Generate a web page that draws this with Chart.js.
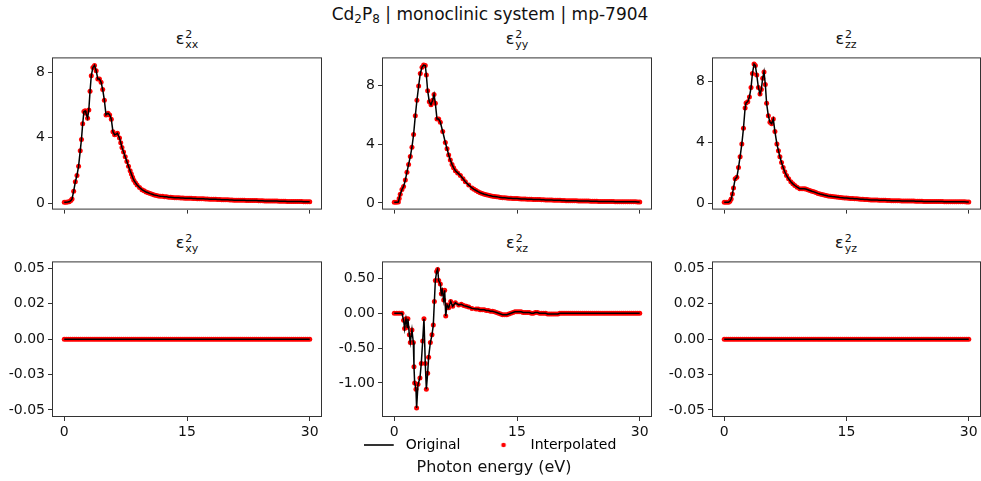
<!DOCTYPE html>
<html>
<head>
<meta charset="utf-8">
<script src="https://cdn.jsdelivr.net/npm/chart.js@4.4.1/dist/chart.umd.min.js"></script>
<style>
  html, body { margin: 0; padding: 0; background: #fff; }
  #fig { position: relative; width: 981px; height: 481px; overflow: hidden; font-family: "DejaVu Sans", sans-serif; color: #111; }
  #fig canvas { position: absolute; }
  .txt { position: absolute; white-space: nowrap; transform: translateX(-50%); }
  .main { font-size: 17px; line-height: 20px; top: 4px; left: 490px; }
  .main sub { font-size: 12px; line-height: 0; vertical-align: -3px; }
  .ttl { font-size: 16px; line-height: 16px; }
  .idx { display: inline-flex; flex-direction: column; font-size: 11px; line-height: 10px; vertical-align: 6px; margin-left: 1px; }
  .xlabel { font-size: 16px; line-height: 19px; left: 494px; top: 457px; }
</style>
</head>
<body>
<div id="fig">
  <div class="txt main">Cd<sub>2</sub>P<sub>8</sub> | monoclinic system | mp-7904</div>
  <div class="txt ttl" style="left:187px;top:30px">ε<span class="idx"><span>2</span><span>xx</span></span></div>
  <div class="txt ttl" style="left:517px;top:30px">ε<span class="idx"><span>2</span><span>yy</span></span></div>
  <div class="txt ttl" style="left:846px;top:30px">ε<span class="idx"><span>2</span><span>zz</span></span></div>
  <div class="txt ttl" style="left:187px;top:234px">ε<span class="idx"><span>2</span><span>xy</span></span></div>
  <div class="txt ttl" style="left:517px;top:234px">ε<span class="idx"><span>2</span><span>xz</span></span></div>
  <div class="txt ttl" style="left:846px;top:234px">ε<span class="idx"><span>2</span><span>yz</span></span></div>
  <canvas id="cXX"></canvas>
  <canvas id="cYY"></canvas>
  <canvas id="cZZ"></canvas>
  <canvas id="cXY"></canvas>
  <canvas id="cXZ"></canvas>
  <canvas id="cYZ"></canvas>
  <canvas id="cLegend"></canvas>
  <div class="txt xlabel">Photon energy (eV)</div>
</div>
<script>
/* ===== data ===== */
const xTicks = [0, 15, 30];
const xTickLabels = ["0", "15", "30"];
const topTicks = [0, 4, 8];
const topTickLabels = ["0", "4", "8"];
const zeroTicks = [-0.05, -0.025, 0, 0.025, 0.05];
const zeroTickLabels = ["-0.05", "-0.03", "0.00", "0.02", "0.05"];
const xzTicks = [-1, -0.5, 0, 0.5];
const xzTickLabels = ["-1.00", "-0.50", "0.00", "0.50"];

// 10 .. 30 eV, shared by the slow tails
const tailEnergy = [
  10, 10.25, 10.5, 10.75, 11, 11.25, 11.5, 11.75, 12, 12.25,
  12.5, 12.75, 13, 13.25, 13.5, 13.75, 14, 14.25, 14.5, 14.75,
  15, 15.25, 15.5, 15.75, 16, 16.25, 16.5, 16.75, 17, 17.25,
  17.5, 17.75, 18, 18.25, 18.5, 18.75, 19, 19.25, 19.5, 19.75,
  20, 20.25, 20.5, 20.75, 21, 21.25, 21.5, 21.75, 22, 22.25,
  22.5, 22.75, 23, 23.25, 23.5, 23.75, 24, 24.25, 24.5, 24.75,
  25, 25.25, 25.5, 25.75, 26, 26.25, 26.5, 26.75, 27, 27.25,
  27.5, 27.75, 28, 28.25, 28.5, 28.75, 29, 29.25, 29.5, 29.75,
  30];

const energyXX = [0, 0.2, 0.4, 0.6, 0.8, 0.95, 1.15, 1.35, 1.55, 1.75, 1.95, 2.1, 2.25, 2.4, 2.55, 2.65, 2.85, 3.0, 3.15, 3.3,
  3.5, 3.7, 3.9, 4.1, 4.3, 4.5, 4.7, 4.9, 5.1, 5.35, 5.55, 5.75, 5.95, 6.15, 6.35, 6.5, 6.75, 6.9, 7.05, 7.25,
  7.45, 7.65, 7.85, 8.05, 8.2, 8.35, 8.5, 8.7, 8.9, 9.2, 9.5, 9.75];
const epsXX = [0.05, 0.05, 0.06, 0.08, 0.15, 0.25, 0.73, 1.3, 1.69, 2.26, 3.2, 3.9, 4.85, 5.6, 5.65, 5.5, 5.2, 5.7, 6.85, 7.8,
  8.3, 8.43, 8.1, 7.6, 7.6, 7.4, 6.95, 6.3, 5.4, 5.5, 5.4, 5.13, 4.37, 4.18, 4.22, 4.27, 3.98, 3.7, 3.41, 3.12,
  2.83, 2.55, 2.26, 1.98, 1.78, 1.58, 1.4, 1.25, 1.11, 0.95, 0.82, 0.75];
const tailXX = [
  0.68, 0.63, 0.58, 0.54, 0.5, 0.47, 0.44, 0.42, 0.41, 0.39,
  0.38, 0.36, 0.35, 0.34, 0.33, 0.32, 0.32, 0.31, 0.31, 0.3,
  0.3, 0.29, 0.29, 0.28, 0.28, 0.27, 0.27, 0.26, 0.26, 0.25,
  0.25, 0.24, 0.24, 0.23, 0.23, 0.22, 0.22, 0.21, 0.21, 0.2,
  0.2, 0.19, 0.19, 0.18, 0.18, 0.18, 0.17, 0.17, 0.17, 0.16,
  0.16, 0.15, 0.15, 0.15, 0.15, 0.14, 0.14, 0.14, 0.13, 0.13,
  0.13, 0.12, 0.12, 0.12, 0.12, 0.11, 0.11, 0.11, 0.11, 0.1,
  0.1, 0.1, 0.1, 0.09, 0.09, 0.09, 0.09, 0.08, 0.08, 0.08,
  0.08];

const energyYY = [0, 0.25, 0.5, 0.6, 0.73, 0.94, 1.14, 1.35, 1.55, 1.75, 1.96, 2.16, 2.36, 2.57, 2.77, 2.98, 3.18, 3.39, 3.59, 3.79,
  3.92, 4.08, 4.28, 4.49, 4.69, 4.86, 5.02, 5.22, 5.43, 5.63, 5.92, 6.24, 6.45, 6.65, 6.85, 7.06, 7.25, 7.47, 7.75, 8.08,
  8.4, 8.69, 9.1, 9.5, 9.75];
const epsYY = [0.05, 0.05, 0.07, 0.3, 0.6, 0.92, 1.13, 1.56, 2.1, 2.63, 3.16, 3.8, 4.66, 5.94, 7.0, 7.97, 8.83, 9.25, 9.4, 9.36,
  8.72, 7.65, 6.9, 6.69, 7.0, 7.4, 6.8, 5.72, 5.72, 5.5, 4.87, 4.12, 3.7, 3.27, 2.93, 2.63, 2.4, 2.2, 2.05, 1.88,
  1.65, 1.45, 1.22, 1.03, 0.93];
const tailYY = [
  0.85, 0.77, 0.7, 0.65, 0.6, 0.56, 0.52, 0.49, 0.46, 0.44,
  0.42, 0.4, 0.38, 0.36, 0.35, 0.34, 0.33, 0.32, 0.31, 0.3,
  0.3, 0.29, 0.28, 0.28, 0.27, 0.26, 0.26, 0.25, 0.24, 0.24,
  0.23, 0.23, 0.22, 0.22, 0.21, 0.21, 0.2, 0.2, 0.19, 0.19,
  0.18, 0.18, 0.17, 0.17, 0.16, 0.16, 0.16, 0.15, 0.15, 0.15,
  0.14, 0.14, 0.14, 0.13, 0.13, 0.13, 0.12, 0.12, 0.12, 0.12,
  0.11, 0.11, 0.11, 0.1, 0.1, 0.1, 0.1, 0.1, 0.09, 0.09,
  0.09, 0.09, 0.09, 0.08, 0.08, 0.08, 0.08, 0.08, 0.08, 0.07,
  0.07];

const energyZZ = [0, 0.25, 0.53, 0.7, 0.85, 1.0, 1.14, 1.34, 1.55, 1.75, 1.95, 2.16, 2.36, 2.56, 2.68, 2.89, 3.09, 3.29, 3.46, 3.66,
  3.82, 3.99, 4.19, 4.39, 4.55, 4.72, 4.88, 5.04, 5.2, 5.41, 5.61, 5.82, 6.02, 6.22, 6.46, 6.65, 6.83, 7.03, 7.23, 7.43,
  7.64, 7.9, 8.17, 8.42, 8.66, 8.95, 9.27, 9.55, 9.8];
const epsZZ = [0.05, 0.05, 0.06, 0.12, 0.27, 0.6, 1.0, 1.6, 1.7, 2.34, 3.06, 3.9, 4.93, 6.27, 6.6, 6.69, 7.0, 7.62, 8.55, 9.17,
  9.07, 8.45, 7.62, 7.2, 7.5, 8.24, 8.65, 7.83, 6.58, 5.76, 5.34, 5.24, 5.55, 4.72, 3.9, 3.45, 3.06, 2.68, 2.34, 2.07,
  1.82, 1.6, 1.41, 1.27, 1.16, 1.05, 0.95, 0.94, 0.95];
const tailZZ = [
  0.93, 0.88, 0.83, 0.78, 0.74, 0.69, 0.64, 0.6, 0.57, 0.53,
  0.5, 0.47, 0.45, 0.43, 0.42, 0.4, 0.38, 0.36, 0.35, 0.34,
  0.33, 0.32, 0.31, 0.3, 0.29, 0.28, 0.27, 0.26, 0.25, 0.24,
  0.23, 0.22, 0.21, 0.21, 0.2, 0.2, 0.19, 0.19, 0.18, 0.18,
  0.17, 0.17, 0.16, 0.16, 0.15, 0.15, 0.15, 0.14, 0.14, 0.14,
  0.13, 0.13, 0.13, 0.13, 0.12, 0.12, 0.12, 0.12, 0.11, 0.11,
  0.11, 0.11, 0.1, 0.1, 0.1, 0.1, 0.1, 0.1, 0.09, 0.09,
  0.09, 0.09, 0.09, 0.08, 0.08, 0.08, 0.08, 0.08, 0.08, 0.07,
  0.07];

const energyXZ = [0, 0.3, 0.6, 0.94, 1.14, 1.26, 1.43, 1.59, 1.67, 1.84, 1.96, 2.16, 2.33, 2.41, 2.49, 2.65, 2.73, 2.9, 3.14, 3.3,
  3.47, 3.63, 3.79, 3.92, 4.08, 4.2, 4.41, 4.61, 4.77, 4.9, 5.02, 5.18, 5.3, 5.43, 5.63, 5.75, 5.87, 6.04, 6.16, 6.29,
  6.45, 6.65, 6.9, 7.14, 7.47, 7.87, 8.2, 8.49, 8.8, 9.1, 9.5];
const epsXZ = [0, 0, 0, 0, -0.1, -0.22, -0.08, -0.2, -0.08, -0.31, -0.42, -0.24, -0.42, -0.77, -1.0, -1.09, -1.36, -1.02, -0.93, -0.72,
  -0.4, -0.08, -0.72, -1.09, -0.86, -0.63, -0.42, -0.31, -0.17, 0.17, 0.47, 0.6, 0.63, 0.47, 0.42, 0.28, 0.33, 0.19, 0.33, -0.04,
  0.12, 0.08, 0.17, 0.1, 0.15, 0.12, 0.13, 0.11, 0.1, 0.09, 0.07];
const tailXZ = [
  0.06, 0.06, 0.05, 0.05, 0.05, 0.04, 0.04, 0.03, 0.03, 0.02,
  0.01, 0, -0.01, -0.02, -0.02, -0.02, -0.01, 0, 0.01, 0.02,
  0.02, 0.02, 0.02, 0.01, 0.01, 0.01, 0.01, 0, 0, 0.01,
  0.01, 0, 0, 0, 0, -0.01, -0.01, -0.01, -0.01, -0.01,
  -0.01, 0, 0, 0, 0, 0, 0, 0, 0, 0,
  0, 0, 0, 0, 0, 0, 0, 0, 0, 0,
  0, 0, 0, 0, 0, 0, 0, 0, 0, 0,
  0, 0, 0, 0, 0, 0, 0, 0, 0, 0,
  0];

// xy and yz are flat zero over the whole range
const energyFlat = [
  0, 0.25, 0.5, 0.75, 1, 1.25, 1.5, 1.75, 2, 2.25,
  2.5, 2.75, 3, 3.25, 3.5, 3.75, 4, 4.25, 4.5, 4.75,
  5, 5.25, 5.5, 5.75, 6, 6.25, 6.5, 6.75, 7, 7.25,
  7.5, 7.75, 8, 8.25, 8.5, 8.75, 9, 9.25, 9.5, 9.75];
const epsOffDiag = [
  0, 0, 0, 0, 0, 0, 0, 0, 0, 0, 0, 0, 0, 0, 0, 0, 0, 0, 0, 0,
  0, 0, 0, 0, 0, 0, 0, 0, 0, 0, 0, 0, 0, 0, 0, 0, 0, 0, 0, 0,
  0, 0, 0, 0, 0, 0, 0, 0, 0, 0, 0, 0, 0, 0, 0, 0, 0, 0, 0, 0,
  0, 0, 0, 0, 0, 0, 0, 0, 0, 0, 0, 0, 0, 0, 0, 0, 0, 0, 0, 0,
  0, 0, 0, 0, 0, 0, 0, 0, 0, 0, 0, 0, 0, 0, 0, 0, 0, 0, 0, 0,
  0, 0, 0, 0, 0, 0, 0, 0, 0, 0, 0, 0, 0, 0, 0, 0, 0, 0, 0, 0,
  0];

/* ===== setup ===== */
Chart.defaults.font.family = '"DejaVu Sans", sans-serif';
Chart.defaults.font.size = 14;
Chart.defaults.color = '#111';

const pts = (e, v) => e.map((x, i) => ({ x, y: v[i] }));

// full box round each plot area, like the matplotlib spines
const frame = {
  id: 'frame',
  afterDatasetsDraw(chart) {
    const a = chart.chartArea, ctx = chart.ctx;
    ctx.save();
    ctx.strokeStyle = '#333';
    ctx.lineWidth = 1;
    ctx.strokeRect(a.left + 0.5, a.top + 0.5, a.right - a.left - 1, a.bottom - a.top - 1);
    ctx.restore();
  }
};

const panels = [
  { id: 'cXX', data: pts(energyXX.concat(tailEnergy), epsXX.concat(tailXX)), left: 0, top: 46, yw: 52, w: 326, h: 175, xh: 8,
    ymin: -0.4, ymax: 8.92, ticks: topTicks, labels: topTickLabels, xLabels: false },
  { id: 'cYY', data: pts(energyYY.concat(tailEnergy), epsYY.concat(tailYY)), left: 326, top: 46, yw: 56, w: 330, h: 175, xh: 8,
    ymin: -0.45, ymax: 9.92, ticks: topTicks, labels: topTickLabels, xLabels: false },
  { id: 'cZZ', data: pts(energyZZ.concat(tailEnergy), epsZZ.concat(tailZZ)), left: 656, top: 46, yw: 56, w: 329, h: 175, xh: 8,
    ymin: -0.43, ymax: 9.61, ticks: topTicks, labels: topTickLabels, xLabels: false },
  { id: 'cXY', data: pts(energyFlat.concat(tailEnergy), epsOffDiag), left: 0, top: 250, yw: 52, w: 326, h: 191, xh: 24,
    ymin: -0.055, ymax: 0.055, ticks: zeroTicks, labels: zeroTickLabels, xLabels: true },
  { id: 'cXZ', data: pts(energyXZ.concat(tailEnergy), epsXZ.concat(tailXZ)), left: 326, top: 250, yw: 56, w: 330, h: 191, xh: 24,
    ymin: -1.49, ymax: 0.745, ticks: xzTicks, labels: xzTickLabels, xLabels: true },
  { id: 'cYZ', data: pts(energyFlat.concat(tailEnergy), epsOffDiag), left: 656, top: 250, yw: 56, w: 329, h: 191, xh: 24,
    ymin: -0.055, ymax: 0.055, ticks: zeroTicks, labels: zeroTickLabels, xLabels: true }
];

panels.forEach(p => {
  const canvas = document.getElementById(p.id);
  canvas.width = p.w; canvas.height = p.h;
  canvas.style.left = p.left + 'px';
  canvas.style.top = p.top + 'px';

  new Chart(canvas, {
    type: 'scatter',
    data: {
      datasets: [
        { label: 'Original', data: p.data, showLine: true, borderColor: '#000', borderWidth: 1.5,
          pointRadius: 0, tension: 0, order: 0 },
        { label: 'Interpolated', data: p.data, showLine: false, pointRadius: 2.5, pointBorderWidth: 0,
          backgroundColor: '#f00', order: 1 }
      ]
    },
    options: {
      responsive: false,
      animation: false,
      layout: { padding: { top: 5, right: 4, left: 0, bottom: 0 } },
      plugins: { legend: { display: false }, tooltip: { enabled: false } },
      scales: {
        x: {
          type: 'linear', min: -1.5, max: 31.5,
          afterBuildTicks: s => { s.ticks = xTicks.map(value => ({ value })); },
          afterFit: s => { s.height = p.xh; },
          grid: { drawOnChartArea: false, tickLength: 4, color: '#333' },
          border: { display: false },
          ticks: { display: p.xLabels, padding: 3, maxRotation: 0, callback: (v, i) => xTickLabels[i] }
        },
        y: {
          min: p.ymin, max: p.ymax,
          afterBuildTicks: s => { s.ticks = p.ticks.map(value => ({ value })); },
          afterFit: s => { s.width = p.yw; },
          grid: { drawOnChartArea: false, tickLength: 4, color: '#333' },
          border: { display: false },
          ticks: { padding: 3, autoSkip: false, callback: (v, i) => p.labels[i] }
        }
      }
    },
    plugins: [frame]
  });
});

/* ===== legend (own small chart so it sits between ticks and x label) ===== */
function handle(draw) {
  const c = document.createElement('canvas');
  c.width = 35; c.height = 8;
  draw(c.getContext('2d'));
  return c;
}
const lineHandle = handle(g => {
  g.strokeStyle = '#000'; g.lineWidth = 1.6;
  g.beginPath(); g.moveTo(0, 4); g.lineTo(30, 4); g.stroke();
});
const dotHandle = handle(g => {
  g.fillStyle = '#f00';
  g.beginPath(); g.arc(15, 4, 2.3, 0, Math.PI * 2); g.fill();
});

const legCanvas = document.getElementById('cLegend');
legCanvas.width = 328; legCanvas.height = 120;   // tall so the legend box is not capped; bottom part is cut by the figure
legCanvas.style.left = '326px';
legCanvas.style.top = '410px';

new Chart(legCanvas, {
  type: 'scatter',
  data: { datasets: [{ label: 'Original', data: [] }, { label: 'Interpolated', data: [] }] },
  options: {
    responsive: false,
    animation: false,
    scales: { x: { display: false }, y: { display: false } },
    plugins: {
      tooltip: { enabled: false },
      legend: {
        position: 'top',
        labels: {
          usePointStyle: true,
          pointStyleWidth: 35,
          padding: 28,
          font: { size: 14 },
          color: '#111',
          generateLabels: () => [
            { text: 'Original', pointStyle: lineHandle, fillStyle: '#000', strokeStyle: '#000', lineWidth: 0, datasetIndex: 0, hidden: false },
            { text: 'Interpolated', pointStyle: dotHandle, fillStyle: '#f00', strokeStyle: '#f00', lineWidth: 0, datasetIndex: 1, hidden: false }
          ]
        }
      }
    }
  }
});
</script>
</body>
</html>
